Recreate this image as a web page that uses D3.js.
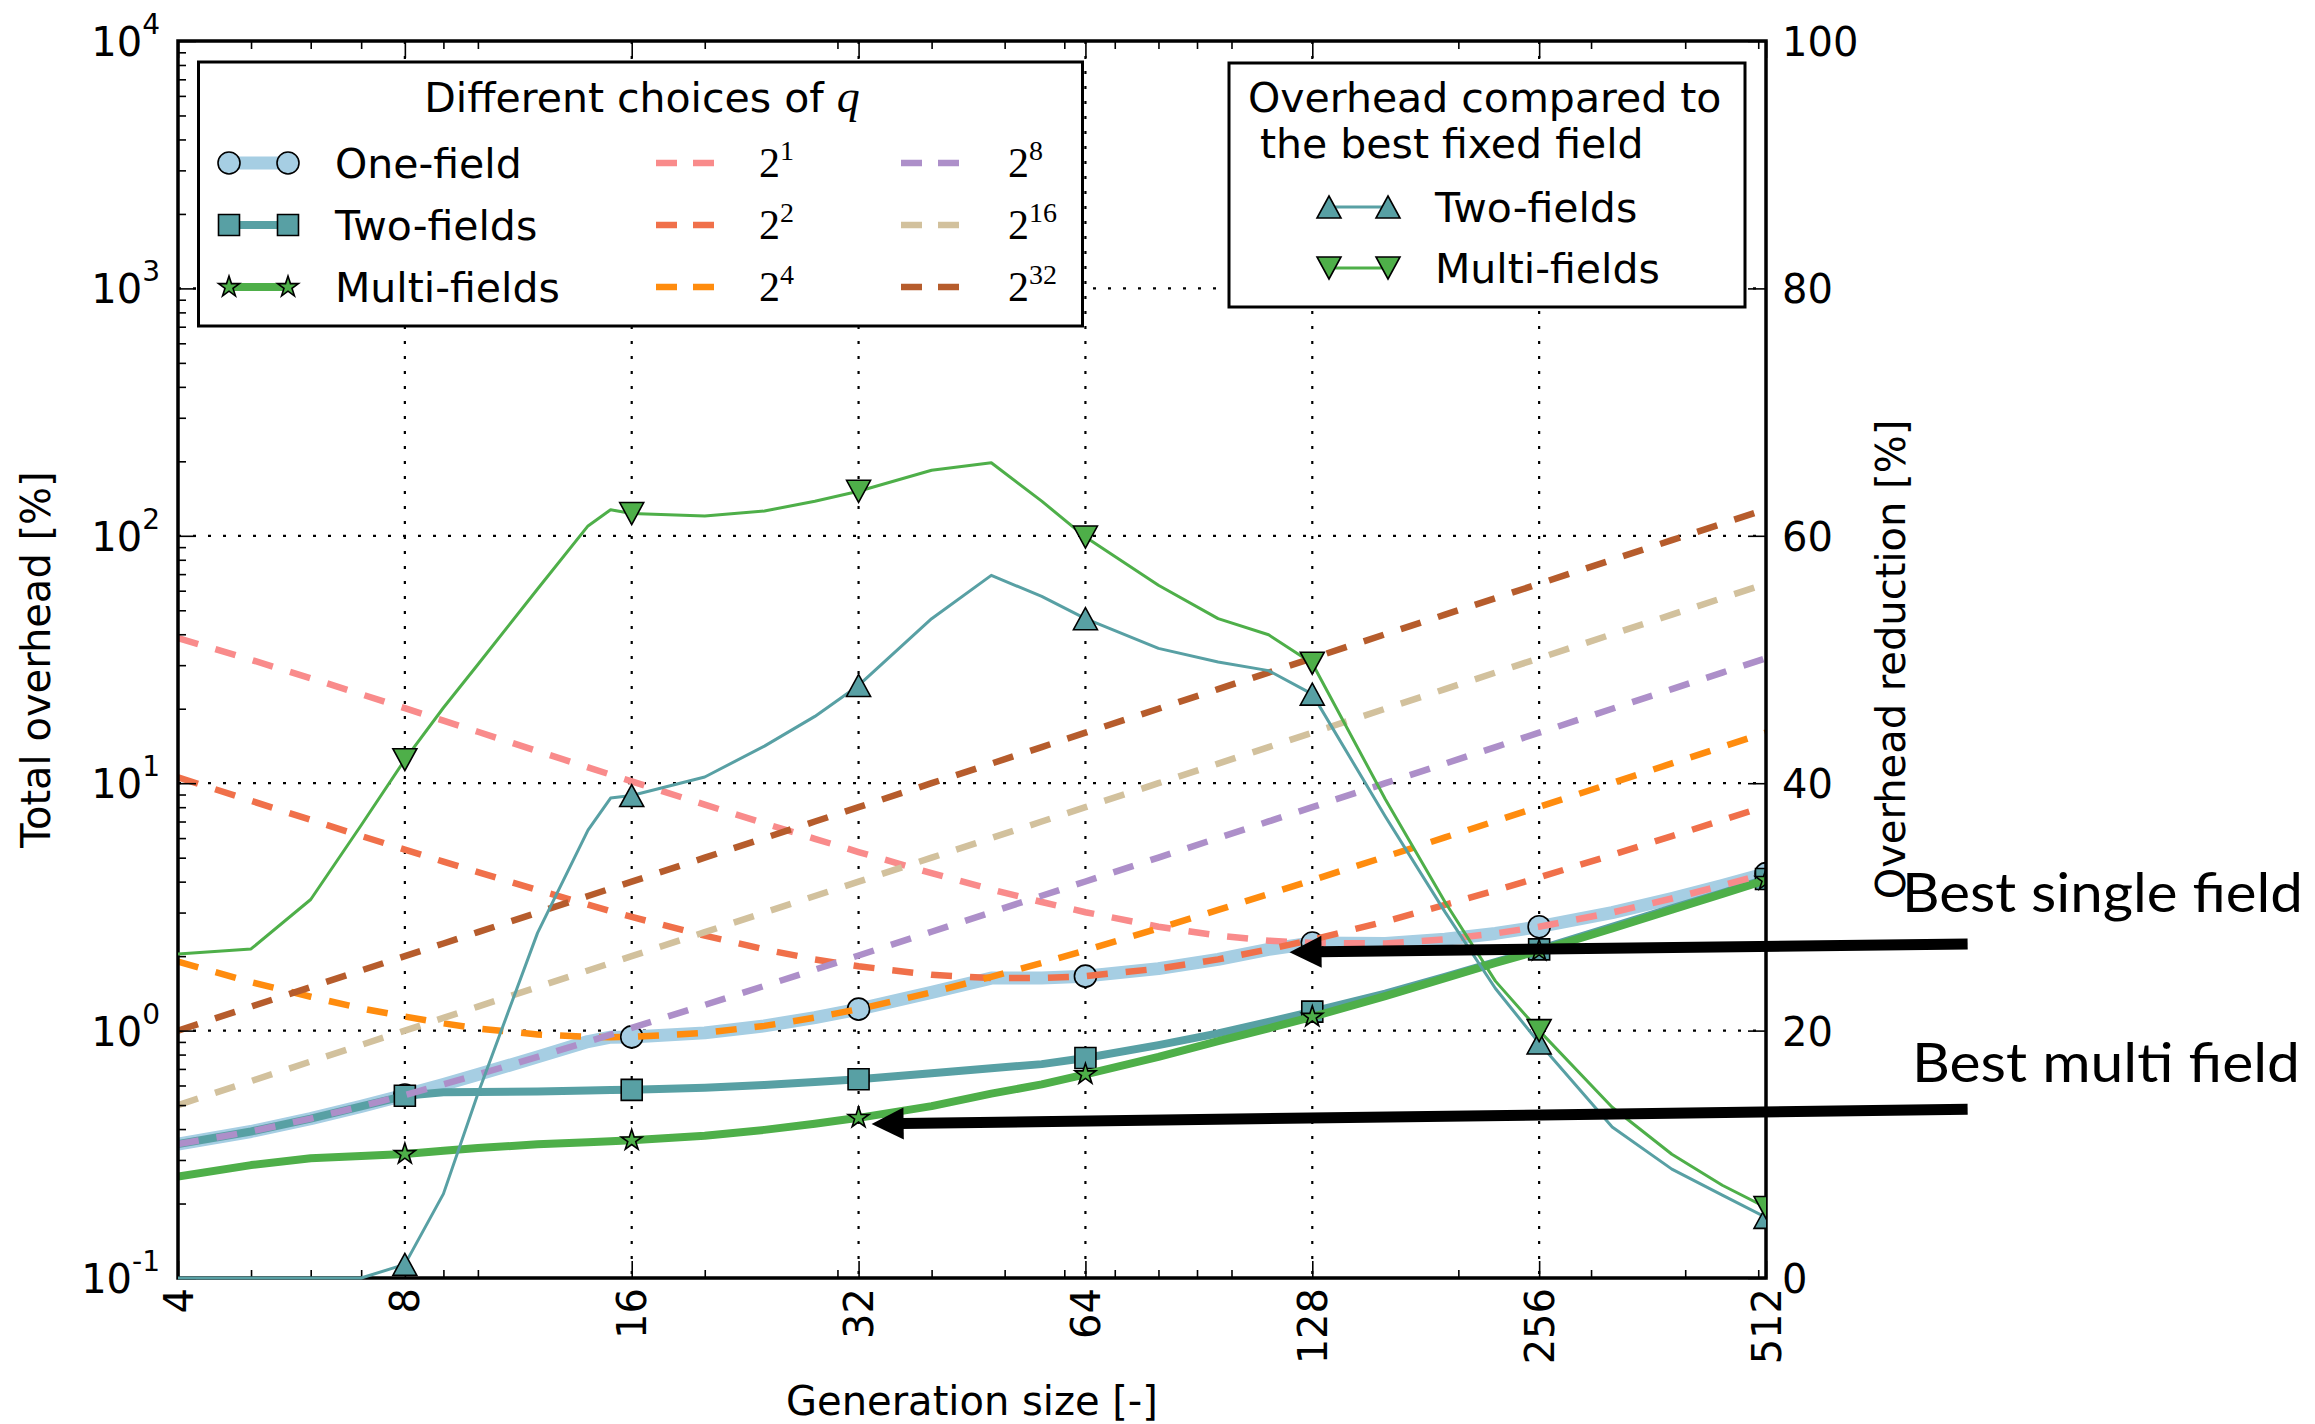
<!DOCTYPE html>
<html>
<head>
<meta charset="utf-8">
<script src="https://cdn.jsdelivr.net/npm/d3@7"></script>
<style>
  body { margin: 0; background: #fff; }
  svg { display: block; }
</style>
</head>
<body>
<div id="chart"></div>
<script>
// generation sizes (x axis)
var genSizes = [4, 5, 6, 7, 8, 9, 10, 12, 14, 15, 16, 20, 24, 28, 32, 40, 48, 56, 64,
  80, 96, 112, 128, 160, 192, 224, 256, 320, 384, 448, 512];
var markerSizes = [8, 16, 32, 64, 128, 256, 512];

// total overhead [%], left axis
var oneField = [0.348, 0.391, 0.441, 0.494, 0.549, 0.606, 0.664, 0.783, 0.903, 0.941, 0.943,
  0.979, 1.045, 1.128, 1.221, 1.427, 1.63, 1.63, 1.66, 1.78, 1.94, 2.13, 2.26, 2.25, 2.34,
  2.47, 2.63, 3.00, 3.42, 3.86, 4.31];
var twoFields = [0.348, 0.391, 0.441, 0.494, 0.545, 0.563, 0.565, 0.567, 0.573, 0.575, 0.576,
  0.588, 0.603, 0.620, 0.636, 0.672, 0.704, 0.732, 0.775, 0.874, 0.974, 1.084, 1.193, 1.41,
  1.65, 1.89, 2.13, 2.63, 3.12, 3.60, 4.10];
var multiFields = [0.257, 0.286, 0.305, 0.311, 0.317, 0.327, 0.335, 0.347, 0.354, 0.357, 0.360,
  0.376, 0.397, 0.420, 0.444, 0.495, 0.556, 0.606, 0.666, 0.783, 0.906, 1.022, 1.137, 1.379,
  1.629, 1.877, 2.104, 2.586, 3.078, 3.571, 4.064];

// overhead for each fixed field size q
var q2 = [38.60, 31.54, 26.56, 22.90, 20.10, 17.90, 16.14, 13.48, 11.59, 10.83, 10.17, 8.19,
  6.88, 5.96, 5.27, 4.33, 3.72, 3.31, 3.01, 2.63, 2.42, 2.31, 2.26, 2.25, 2.34, 2.47, 2.63,
  3.00, 3.42, 3.86, 4.31];
var q4 = [10.56, 8.49, 7.11, 6.12, 5.39, 4.82, 4.37, 3.70, 3.23, 3.04, 2.88, 2.42, 2.13, 1.94,
  1.82, 1.68, 1.63, 1.63, 1.66, 1.78, 1.94, 2.13, 2.33, 2.76, 3.22, 3.69, 4.16, 5.13, 6.11,
  7.09, 8.08];
var q16 = [1.90, 1.57, 1.37, 1.23, 1.14, 1.07, 1.02, 0.965, 0.944, 0.941, 0.943, 0.979, 1.045,
  1.128, 1.221, 1.427, 1.648, 1.877, 2.111, 2.589, 3.074, 3.563, 4.055, 5.044, 6.037, 7.032,
  8.028, 10.02, 12.02, 14.02, 16.01];
var q256 = [0.348, 0.391, 0.441, 0.494, 0.549, 0.606, 0.664, 0.783, 0.903, 0.964, 1.025, 1.27,
  1.516, 1.764, 2.012, 2.51, 3.008, 3.507, 4.006, 5.005, 6.004, 7.004, 8.003, 10.0, 12.0, 14.0,
  16.0, 20.0, 24.0, 28.0, 32.0];
var q65536 = [0.5, 0.625, 0.75, 0.875, 1, 1.125, 1.25, 1.5, 1.75, 1.875, 2, 2.5, 3, 3.5, 4, 5,
  6, 7, 8, 10, 12, 14, 16, 20, 24, 28, 32, 40, 48, 56, 64];
var q2e32 = [1, 1.25, 1.5, 1.75, 2, 2.25, 2.5, 3, 3.5, 3.75, 4, 5, 6, 7, 8, 10, 12, 14, 16, 20,
  24, 28, 32, 40, 48, 56, 64, 80, 96, 112, 128];

// overhead reduction compared to best fixed field [%], right axis
var twoReduction = [0, 0, 0, 0, 1.1, 6.8, 14.9, 27.9, 36.2, 38.8, 39.0, 40.5, 43.0, 45.4, 47.9,
  53.3, 56.8, 55.1, 53.3, 50.9, 49.8, 49.1, 47.2, 37.3, 29.6, 23.4, 19.0, 12.2, 8.8, 6.7, 4.9];
var multiReduction = [26.2, 26.6, 30.6, 36.6, 41.9, 46.1, 49.6, 55.7, 60.8, 62.1, 61.8, 61.6,
  62.0, 62.8, 63.6, 65.3, 65.9, 62.8, 59.9, 56.0, 53.3, 52.0, 49.7, 38.7, 30.4, 24.0, 20.0,
  13.8, 10.0, 7.5, 5.7];

var fieldExponents = ["1", "2", "4", "8", "16", "32"];
var fieldColors = ["#f98b8b", "#f0704a", "#ff8c0e", "#ad8fc9", "#d2c19d", "#b65c2c"];
var fieldSeries = [q2, q4, q16, q256, q65536, q2e32];

// ticks
var xMajor = [4, 8, 16, 32, 64, 128, 256, 512];
var xMinor = [5, 6, 7, 9, 10, 20, 30, 40, 50, 60, 70, 80, 90, 100, 200, 300, 400, 500];
var yMajor = [0.1, 1, 10, 100, 1000, 10000];
var yMajorExp = ["-1", "0", "1", "2", "3", "4"];
var rMajor = [0, 20, 40, 60, 80, 100];

// arrows, in data coordinates (generation size, overhead)
var arrows = [
  { tip: [119.4, 2.075], tail: [948, 2.24] },
  { tip: [33.3, 0.4195], tail: [948, 0.481] }
];

var W = 2315, H = 1424;
var L = 178, R = 1766, T = 41, B = 1278;
var sans = "'DejaVu Sans', sans-serif";
var serif = "'Liberation Serif', 'DejaVu Serif', serif";

var cOne = "#a6cee3", cTwo = "#58a0a4", cMulti = "#4eaf49";

var svg = d3.select("#chart").append("svg")
  .attr("width", W).attr("height", H)
  .style("font-family", sans);
svg.append("rect").attr("width", W).attr("height", H).attr("fill", "#fff");

var x = d3.scaleLog().base(2).domain([4, 512]).range([L, R]);
var y = d3.scaleLog().domain([0.1, 10000]).range([B, T]);
var yR = d3.scaleLinear().domain([0, 100]).range([B, T]);

svg.append("clipPath").attr("id", "plotclip")
  .append("rect").attr("x", L).attr("y", T).attr("width", R - L).attr("height", B - T);
// twin axis lines may sit on the bottom spine
svg.append("clipPath").attr("id", "twinclip")
  .append("rect").attr("x", L).attr("y", T).attr("width", R - L).attr("height", B - T + 4);

// grid
var grid = svg.append("g")
  .attr("stroke", "#000").attr("stroke-width", 2.2).attr("stroke-dasharray", "3,12");
grid.selectAll(".gx").data(xMajor.slice(1, -1)).enter().append("line")
  .attr("x1", d => x(d)).attr("x2", d => x(d)).attr("y1", T).attr("y2", B);
grid.selectAll(".gy").data(yMajor.slice(1, -1)).enter().append("line")
  .attr("y1", d => y(d)).attr("y2", d => y(d)).attr("x1", L).attr("x2", R);

var plot = svg.append("g").attr("clip-path", "url(#plotclip)");

function pts(vals) {
  return genSizes.map(function (g, i) { return { g: g, v: vals[i] }; });
}
var lineL = d3.line().x(d => x(d.g)).y(d => y(d.v));
var lineR = d3.line().x(d => x(d.g)).y(d => yR(d.v));

var symCircle = d3.symbol(d3.symbolCircle, 380)();
var symSquare = d3.symbol(d3.symbolSquare, 441)();
var symStar = d3.symbol(d3.symbolStar, 135)();
var triUp = "M0,-11L12,11L-12,11Z";
var triDown = "M0,11L12,-11L-12,-11Z";

function drawSeries(layer, vals, line, yScale, color, width, marker) {
  var data = pts(vals);
  layer.append("path").datum(data)
    .attr("d", line).attr("fill", "none")
    .attr("stroke", color).attr("stroke-width", width)
    .attr("stroke-linejoin", "round");
  layer.selectAll(null)
    .data(data.filter(d => markerSizes.indexOf(d.g) >= 0))
    .enter().append("path")
    .attr("d", marker)
    .attr("transform", d => "translate(" + x(d.g) + "," + yScale(d.v) + ")")
    .attr("fill", color).attr("stroke", "#000").attr("stroke-width", 1.6);
}

drawSeries(plot, oneField, lineL, y, cOne, 13, symCircle);
drawSeries(plot, twoFields, lineL, y, cTwo, 8, symSquare);
drawSeries(plot, multiFields, lineL, y, cMulti, 8, symStar);

fieldSeries.forEach(function (vals, i) {
  plot.append("path").datum(pts(vals))
    .attr("d", lineL).attr("fill", "none")
    .attr("stroke", fieldColors[i]).attr("stroke-width", 6.5)
    .attr("stroke-dasharray", "21,18");
});

// axes
function styleAxis(g) {
  g.select(".domain").remove();
  g.attr("font-size", 40).attr("font-family", sans);
  g.selectAll(".tick line").attr("stroke-width", 1.6);
}

var axB = svg.append("g").attr("transform", "translate(0," + B + ")")
  .call(d3.axisBottom(x).tickValues(xMajor).tickSize(-17).tickPadding(10).tickFormat(d3.format("d")));
styleAxis(axB);
axB.selectAll(".tick text")
  .attr("transform", "rotate(-90)").attr("x", -10).attr("y", 0).attr("dy", "0.35em")
  .style("text-anchor", "end");

var axBm = svg.append("g").attr("transform", "translate(0," + B + ")")
  .call(d3.axisBottom(x).tickValues(xMinor).tickSize(-8).tickFormat(""));
styleAxis(axBm);
var axT = svg.append("g").attr("transform", "translate(0," + T + ")")
  .call(d3.axisTop(x).tickValues(xMajor).tickSize(-17).tickFormat(""));
styleAxis(axT);
var axTm = svg.append("g").attr("transform", "translate(0," + T + ")")
  .call(d3.axisTop(x).tickValues(xMinor).tickSize(-8).tickFormat(""));
styleAxis(axTm);

var yMinor = [];
yMajor.slice(0, -1).forEach(function (p) {
  for (var k = 2; k <= 9; k++) yMinor.push(p * k);
});
var axL = svg.append("g").attr("transform", "translate(" + L + ",0)")
  .call(d3.axisLeft(y).tickValues(yMajor).tickSize(-18).tickPadding(18));
styleAxis(axL);
axL.selectAll(".tick text").text(null).attr("dy", "0.36em").each(function (d, i) {
  var t = d3.select(this);
  t.append("tspan").text("10");
  t.append("tspan").attr("dy", -22).attr("font-size", 28).text(yMajorExp[i]);
});
var axLm = svg.append("g").attr("transform", "translate(" + L + ",0)")
  .call(d3.axisLeft(y).tickValues(yMinor).tickSize(-8).tickFormat(""));
styleAxis(axLm);

var axR = svg.append("g").attr("transform", "translate(" + R + ",0)")
  .call(d3.axisRight(yR).tickValues(rMajor).tickSize(-18).tickPadding(16));
styleAxis(axR);
axR.selectAll(".tick text").attr("dy", "0.36em");

// spines
svg.append("rect").attr("x", L).attr("y", T).attr("width", R - L).attr("height", B - T)
  .attr("fill", "none").attr("stroke", "#000").attr("stroke-width", 3.5);

// twin axis (overhead reduction), drawn over the main axes
var twin = svg.append("g").attr("clip-path", "url(#twinclip)");
drawSeries(twin, twoReduction, lineR, yR, cTwo, 3, triUp);
drawSeries(twin, multiReduction, lineR, yR, cMulti, 3, triDown);

// axis labels
svg.append("text").attr("x", (L + R) / 2).attr("y", 1415)
  .attr("text-anchor", "middle").attr("font-size", 40).text("Generation size [-]");
svg.append("text").attr("transform", "translate(50," + (T + B) / 2 + ") rotate(-90)")
  .attr("text-anchor", "middle").attr("font-size", 40).text("Total overhead [%]");
svg.append("text").attr("transform", "translate(1905," + (T + B) / 2 + ") rotate(-90)")
  .attr("text-anchor", "middle").attr("font-size", 40).text("Overhead reduction [%]");

// left legend
var lg = svg.append("g").attr("font-size", 41);
lg.append("rect").attr("x", 198.5).attr("y", 62).attr("width", 884).attr("height", 264)
  .attr("fill", "#fff").attr("stroke", "#000").attr("stroke-width", 3);
var lt = lg.append("text").attr("x", 642).attr("y", 112).attr("text-anchor", "middle");
lt.append("tspan").text("Different choices of ");
lt.append("tspan").attr("font-family", serif).attr("font-style", "italic")
  .attr("font-size", 46).text("q");

var rowsY = [163, 225, 287];
var mainEntries = [
  { name: "One-field", color: cOne, width: 13, marker: symCircle },
  { name: "Two-fields", color: cTwo, width: 8, marker: symSquare },
  { name: "Multi-fields", color: cMulti, width: 8, marker: symStar }
];
mainEntries.forEach(function (e, i) {
  var yy = rowsY[i];
  lg.append("line").attr("x1", 229).attr("x2", 288).attr("y1", yy).attr("y2", yy)
    .attr("stroke", e.color).attr("stroke-width", e.width);
  [229, 288].forEach(function (xx) {
    lg.append("path").attr("d", e.marker).attr("transform", "translate(" + xx + "," + yy + ")")
      .attr("fill", e.color).attr("stroke", "#000").attr("stroke-width", 1.6);
  });
  lg.append("text").attr("x", 335).attr("y", yy).attr("dy", "0.36em").text(e.name);
});
fieldExponents.forEach(function (ex, i) {
  var col = Math.floor(i / 3), yy = rowsY[i % 3];
  var x0 = col === 0 ? 656 : 901, x1 = col === 0 ? 714 : 962, tx = col === 0 ? 759 : 1008;
  lg.append("line").attr("x1", x0).attr("x2", x1).attr("y1", yy).attr("y2", yy)
    .attr("stroke", fieldColors[i]).attr("stroke-width", 6.5).attr("stroke-dasharray", "21,16");
  var t = lg.append("text").attr("x", tx).attr("y", yy + 14)
    .attr("font-family", serif).attr("font-size", 42);
  t.append("tspan").text("2");
  t.append("tspan").attr("dy", -17).attr("font-size", 28).text(ex);
});

// right legend
var rg = svg.append("g").attr("font-size", 41);
rg.append("rect").attr("x", 1229).attr("y", 63).attr("width", 516).attr("height", 244)
  .attr("fill", "#fff").attr("stroke", "#000").attr("stroke-width", 3);
rg.append("text").attr("x", 1248).attr("y", 112).text("Overhead compared to");
rg.append("text").attr("x", 1260).attr("y", 158).text("the best fixed field");
var redEntries = [
  { name: "Two-fields", color: cTwo, marker: triUp, y: 207 },
  { name: "Multi-fields", color: cMulti, marker: triDown, y: 268 }
];
redEntries.forEach(function (e) {
  rg.append("line").attr("x1", 1329).attr("x2", 1388).attr("y1", e.y).attr("y2", e.y)
    .attr("stroke", e.color).attr("stroke-width", 3);
  [1329, 1388].forEach(function (xx) {
    rg.append("path").attr("d", e.marker).attr("transform", "translate(" + xx + "," + e.y + ")")
      .attr("fill", e.color).attr("stroke", "#000").attr("stroke-width", 1.6);
  });
  rg.append("text").attr("x", 1435).attr("y", e.y).attr("dy", "0.36em").text(e.name);
});

// annotations
var ann = svg.append("g");
arrows.forEach(function (a) {
  var p0 = [x(a.tip[0]), y(a.tip[1])], p1 = [x(a.tail[0]), y(a.tail[1])];
  var dx = p1[0] - p0[0], dy = p1[1] - p0[1], len = Math.sqrt(dx * dx + dy * dy);
  var ux = dx / len, uy = dy / len, nx = -uy, ny = ux;
  var hl = 32, hw = 16;
  ann.append("line")
    .attr("x1", p0[0] + ux * (hl - 2)).attr("y1", p0[1] + uy * (hl - 2))
    .attr("x2", p1[0]).attr("y2", p1[1])
    .attr("stroke", "#000").attr("stroke-width", 11);
  var bx = p0[0] + ux * hl, by = p0[1] + uy * hl;
  ann.append("path")
    .attr("d", "M" + p0[0] + "," + p0[1] + "L" + (bx + nx * hw) + "," + (by + ny * hw) +
      "L" + (bx - nx * hw) + "," + (by - ny * hw) + "Z")
    .attr("fill", "#000");
});
ann.append("text").attr("x", 1902).attr("y", 912).attr("font-family", "Lato, 'Open Sans', sans-serif")
  .attr("font-size", 54).attr("textLength", 401).attr("lengthAdjust", "spacingAndGlyphs")
  .text("Best single field");
ann.append("text").attr("x", 1912).attr("y", 1082).attr("font-family", "Lato, 'Open Sans', sans-serif")
  .attr("font-size", 54).attr("textLength", 388).attr("lengthAdjust", "spacingAndGlyphs")
  .text("Best multi field");
</script>
</body>
</html>
